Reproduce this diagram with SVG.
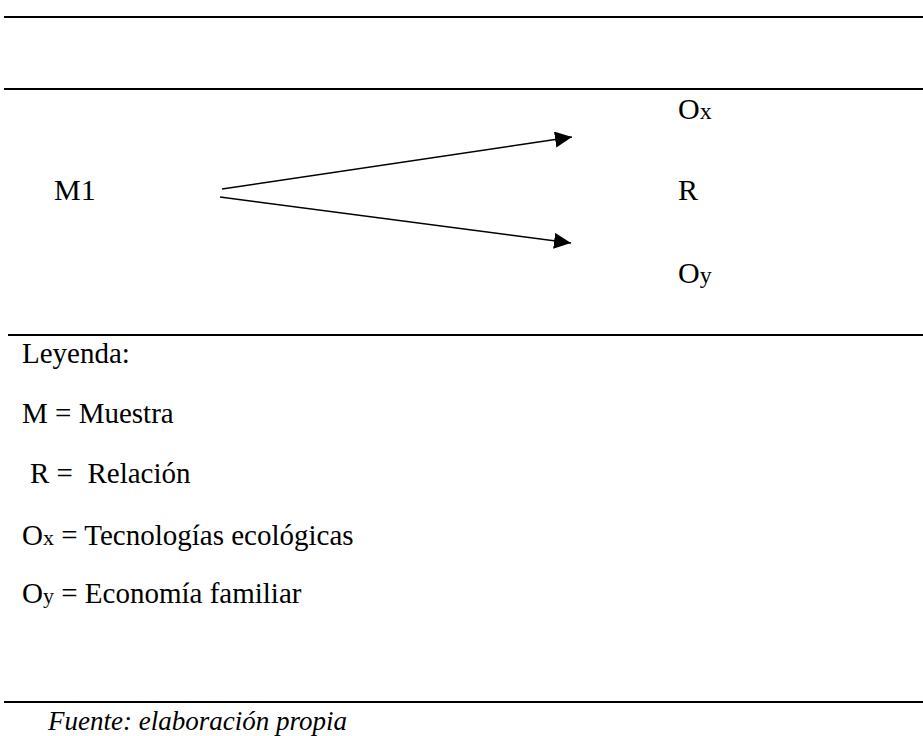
<svg xmlns="http://www.w3.org/2000/svg" width="923" height="736" viewBox="0 0 923 736">
<style>
.rule{stroke:#000;stroke-width:2.2;fill:none}
.conn{stroke:#000;stroke-width:1.6;fill:none}
text{font-family:"Liberation Serif","Times New Roman",Tinos,"DejaVu Serif",serif;fill:#000}
.lbl{font-size:30px}
.leg{font-size:29px}
.sub{font-size:22px}
.dsub{font-size:24px}
.src{font-size:27px;font-style:italic}
</style>
<defs>
<marker id="ah" markerUnits="userSpaceOnUse" markerWidth="18" markerHeight="17" refX="17" refY="8" orient="auto">
<path d="M0,0 L17,8 L0,16 z" fill="#000"/>
</marker>
</defs>
<g id="rules">
<line class="rule" x1="4" y1="17" x2="923" y2="17"/>
<line class="rule" x1="4" y1="89" x2="923" y2="89"/>
<line class="rule" x1="8" y1="335" x2="923" y2="335"/>
<line class="rule" x1="4" y1="702" x2="923" y2="702"/>
</g>
<g id="node-M1"><text class="lbl" x="54" y="200">M1</text></g>
<g id="node-Ox"><text class="lbl" x="678" y="119">O<tspan class="dsub">x</tspan></text></g>
<g id="node-R"><text class="lbl" x="678" y="200">R</text></g>
<g id="node-Oy"><text class="lbl" x="678" y="283">O<tspan class="dsub">y</tspan></text></g>
<g id="connectors">
<line class="conn" x1="222" y1="189" x2="572" y2="137" marker-end="url(#ah)"/>
<line class="conn" x1="220" y1="197" x2="571" y2="243" marker-end="url(#ah)"/>
</g>
<g id="legend">
<text class="leg" x="22" y="363">Leyenda:</text>
<text class="leg" x="22" y="423">M = Muestra</text>
<text class="leg" x="30" y="483" xml:space="preserve">R =  Relación</text>
<text class="leg" x="22" y="545">O<tspan class="sub">x</tspan> = Tecnologías ecológicas</text>
<text class="leg" x="22" y="603">O<tspan class="sub">y</tspan> = Economía familiar</text>
</g>
<g id="source"><text class="src" x="48" y="730">Fuente: elaboración propia</text></g>
</svg>
